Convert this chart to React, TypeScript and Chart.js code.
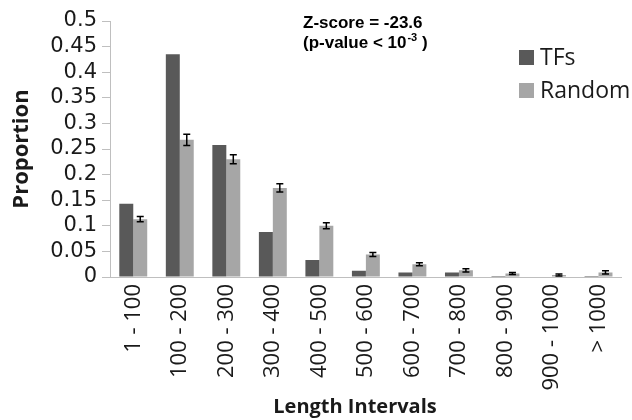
import React, { useEffect, useRef } from "react";
import { Chart, registerables } from "chart.js";

Chart.register(...registerables);

const categories = ["1 - 100", "100 - 200", "200 - 300", "300 - 400", "400 - 500", "500 - 600", "600 - 700", "700 - 800", "800 - 900", "900 - 1000", "> 1000"];
const tfValues = [0.143, 0.435, 0.258, 0.088, 0.033, 0.012, 0.009, 0.009, 0.002, 0.001, 0.002];
const randomValues = [0.113, 0.268, 0.23, 0.174, 0.1, 0.044, 0.025, 0.013, 0.007, 0.004, 0.009];
const randomErrors = [0.005, 0.011, 0.009, 0.008, 0.006, 0.004, 0.003, 0.003, 0.002, 0.002, 0.003];
const seriesNames = ["TFs", "Random"];
const seriesColors = ["#595959", "#a6a6a6"];

const FONT = "'Open Sans', 'DejaVu Sans', sans-serif";
const WIDE_FONT = "'DejaVu Sans', sans-serif";
const ANNO_FONT = "'Liberation Sans', Arial, sans-serif";
const TEXT = "#1a1a1a";

const overlayPlugin = {
  id: "overlay",
  afterDatasetsDraw(chart: any) {
    const ctx = chart.ctx;
    const y = chart.scales.y;
    const meta = chart.getDatasetMeta(1);
    ctx.save();
    ctx.strokeStyle = "#000";
    ctx.lineWidth = 1.5;
    meta.data.forEach((bar: any, i: number) => {
      const v = randomValues[i];
      const e = randomErrors[i];
      const yt = y.getPixelForValue(v + e);
      const yb = y.getPixelForValue(v - e);
      const x = bar.x;
      ctx.beginPath();
      ctx.moveTo(x, yt);
      ctx.lineTo(x, yb);
      ctx.moveTo(x - 3.5, yt);
      ctx.lineTo(x + 3.5, yt);
      ctx.moveTo(x - 3.5, yb);
      ctx.lineTo(x + 3.5, yb);
      ctx.stroke();
    });
    ctx.restore();
  },
  afterDraw(chart: any) {
    const ctx = chart.ctx;
    ctx.save();
    // legend
    const lx = 519;
    const ly = [50, 83];
    seriesNames.forEach((n, i) => {
      ctx.fillStyle = seriesColors[i];
      ctx.fillRect(lx, ly[i], 15, 15);
      ctx.fillStyle = TEXT;
      ctx.font = `23px ${FONT}`;
      ctx.textBaseline = "middle";
      ctx.textAlign = "left";
      ctx.fillText(n, lx + 21, ly[i] + 8);
    });
    // annotation
    ctx.fillStyle = "#000";
    ctx.font = `bold 17px ${ANNO_FONT}`;
    ctx.textBaseline = "alphabetic";
    ctx.fillText("Z-score = -23.6", 303, 28);
    const l2 = "(p-value < 10";
    ctx.fillText(l2, 303, 48);
    const w2 = ctx.measureText(l2).width;
    ctx.font = `bold 11px ${ANNO_FONT}`;
    ctx.fillText("-3", 303 + w2 + 1, 41);
    const w3 = ctx.measureText("-3").width;
    ctx.font = `bold 17px ${ANNO_FONT}`;
    ctx.fillText(" )", 303 + w2 + 1 + w3, 48);
    // x title
    ctx.font = `bold 20px ${FONT}`;
    ctx.textAlign = "center";
    ctx.textBaseline = "middle";
    ctx.fillStyle = TEXT;
    ctx.fillText("Length Intervals", 355, 407);
    ctx.restore();
  },
};

export default function App() {
  const ref = useRef<HTMLCanvasElement>(null);
  useEffect(() => {
    if (!ref.current) return;
    const chart = new Chart(ref.current, {
      type: "bar",
      data: {
        labels: categories,
        datasets: [
          { label: seriesNames[0], data: tfValues, backgroundColor: seriesColors[0] },
          { label: seriesNames[1], data: randomValues, backgroundColor: seriesColors[1] },
        ],
      },
      options: {
        animation: false,
        responsive: false,
        devicePixelRatio: 1,
        layout: { padding: { top: 21, right: 2, left: 0, bottom: 0 } },
        datasets: { bar: { categoryPercentage: 0.6, barPercentage: 1 } },
        plugins: { legend: { display: false }, tooltip: { enabled: false } },
        scales: {
          x: {
            grid: { display: false, drawTicks: false },
            border: { color: "#bfbfbf", width: 1 },
            ticks: {
              autoSkip: false,
              minRotation: 90,
              maxRotation: 90,
              padding: 7,
              color: TEXT,
              font: { family: FONT, size: 22 },
            },
            afterFit: (s: any) => { s.height = 143; },
          },
          y: {
            min: 0,
            max: 0.5,
            grid: { drawOnChartArea: false, drawTicks: true, tickLength: 8, color: "#bfbfbf" },
            border: { color: "#bfbfbf", width: 1 },
            ticks: {
              autoSkip: false,
              stepSize: 0.05,
              padding: 5,
              color: TEXT,
              font: { family: WIDE_FONT, size: 21, lineHeight: 1 },
              callback: (v: any) => String(Number(Number(v).toFixed(2))),
            },
            title: {
              display: true,
              text: "Proportion",
              color: TEXT,
              font: { family: FONT, size: 22, weight: "bold", lineHeight: 1.2 },
              padding: { top: 9, bottom: 0 },
            },
            afterFit: (s: any) => { s.width = 110; },
          },
        },
      },
      plugins: [overlayPlugin],
    });
    return () => chart.destroy();
  }, []);
  return (
    <div style={{ position: "absolute", left: 0, top: 0, width: 632, height: 420, background: "#fff" }}>
      <canvas ref={ref} width={632} height={420} style={{ width: 632, height: 420 }} />
    </div>
  );
}
